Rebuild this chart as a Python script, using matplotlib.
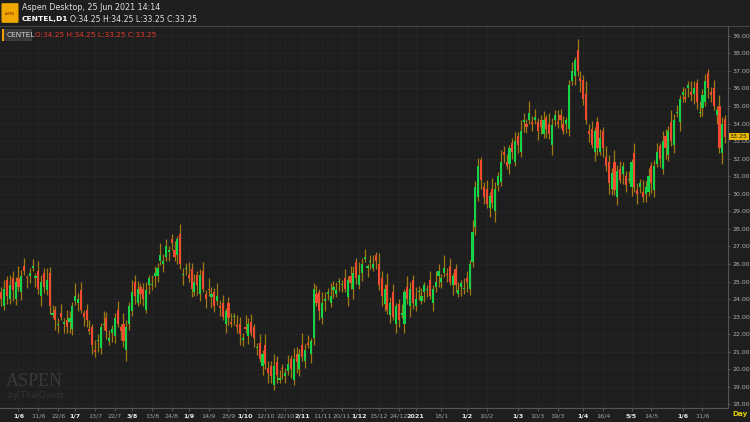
import matplotlib
matplotlib.use("Agg")
import matplotlib.pyplot as plt
from matplotlib.patches import FancyBboxPatch, Rectangle
import numpy as np

closes = [
24.0,24.6,24.2,24.8,24.5,25.0,24.7,25.3,25.6,25.2,
25.5,25.8,25.3,24.6,25.0,24.7,25.1,23.6,23.2,22.8,
22.6,23.0,22.7,22.4,22.9,23.6,24.2,24.0,23.4,23.0,
22.8,22.2,21.4,21.0,21.6,22.4,22.6,22.2,21.8,22.3,
22.9,22.6,22.2,21.6,22.4,23.6,24.4,24.2,24.6,24.3,
24.0,24.5,25.2,24.8,25.5,25.8,26.5,26.2,27.0,26.8,
27.2,26.4,27.4,26.0,25.4,25.8,25.2,24.6,25.0,24.8,
25.4,24.6,24.0,24.5,24.3,23.6,24.2,23.5,23.0,23.3,
22.9,22.6,23.0,22.4,22.0,21.8,22.3,22.6,22.1,21.8,
21.2,20.6,20.9,20.3,19.8,19.6,20.2,19.7,19.5,20.0,
19.8,20.3,20.0,20.6,20.4,20.9,20.7,21.1,21.4,21.6,
24.6,23.8,23.3,23.8,24.0,24.4,24.2,24.7,24.5,25.0,
24.8,24.6,25.1,24.9,25.5,25.2,25.4,26.0,26.4,25.8,
26.2,26.0,26.2,24.8,24.2,24.6,23.4,23.8,23.0,23.6,
22.8,23.2,24.4,24.0,24.6,23.8,24.0,24.4,24.2,24.8,
24.5,24.2,24.6,25.0,25.6,25.2,25.8,25.4,25.0,25.3,
24.8,24.5,24.9,24.6,25.0,26.0,27.8,30.4,31.6,30.8,
29.8,29.4,29.9,29.5,30.3,31.0,31.8,32.2,31.6,32.6,
32.4,33.0,32.8,33.6,34.2,33.8,34.6,34.0,34.4,33.6,
33.8,34.2,33.7,33.4,33.9,34.5,34.0,34.2,33.6,34.2,
36.2,37.0,37.6,37.0,36.4,35.4,34.2,33.4,32.8,33.6,
32.6,33.2,32.6,31.6,30.6,31.2,30.2,31.3,30.8,31.6,
30.5,30.8,31.8,30.4,30.0,30.6,29.8,30.4,31.0,30.6,
31.6,32.4,32.0,33.0,32.6,33.6,33.0,34.2,34.6,35.4,
35.8,35.4,36.2,35.6,36.0,35.2,34.6,35.6,36.4,36.0,
35.6,35.0,34.8,32.6,34.0,33.25]
first_open = 24.4
last_open = 34.25
gap_pattern = [0.3,-0.4,0.5,-0.2,0.4,-0.5,0.2,-0.3,0.6,-0.4,0.1,0.3,-0.6]
wick_pattern = [0.3,0.5,0.2,0.6,0.4,0.25,0.7,0.35,0.45,0.2]
wick_pattern_dn = [0.4,0.2,0.5,0.3,0.6,0.35,0.25,0.45,0.2,0.55]

tick_idx = [6,13,20,26,33,40,46,53,60,66,73,80,86,93,100,106,113,120,126,133,140,146,
            155,164,171,182,189,196,205,212,222,229,240,247]
tick_lbl = ["1/6","11/6","22/6","1/7","13/7","22/7","3/8","13/8","24/8","1/9","14/9","23/9",
            "1/10","12/10","22/10","2/11","11/11","20/11","1/12","15/12","24/12","2021",
            "18/1","1/2","10/2","1/3","10/3","19/3","1/4","16/4","5/5","14/5","1/6","11/6"]
major = {"1/6","1/7","3/8","1/9","1/10","2/11","1/12","2021","1/2","1/3","1/4","5/5"}
yticks = np.arange(18, 40, 1)

closes = np.array(closes)
n = len(closes)
opens = np.concatenate([[first_open], closes[:-1]])
opens = opens + np.array([gap_pattern[i % len(gap_pattern)] for i in range(n)])
opens[0] = first_open
opens[-1] = last_open
wu = np.array([wick_pattern[i % 10] for i in range(n)])
wd = np.array([wick_pattern_dn[i % 10] for i in range(n)])
highs = np.maximum(opens, closes) + wu
lows = np.minimum(opens, closes) - wd

BG = "#1e1e1e"
fig = plt.figure(figsize=(7.5, 4.22), dpi=100, facecolor=BG)
ax = fig.add_axes([0, 14/422, 728/750, (408-27)/422], facecolor=BG)
x = np.arange(n)
ax.vlines(x, lows, highs, color="#a07a12", lw=0.9, zorder=2)
up = closes >= opens
bot = np.minimum(opens, closes)
hgt = np.maximum(np.abs(closes - opens), 0.06)
ax.bar(x[up], hgt[up], bottom=bot[up], width=0.75, color="#14d24a", zorder=3, lw=0)
ax.bar(x[~up], hgt[~up], bottom=bot[~up], width=0.75, color="#f04a30", zorder=3, lw=0)

ax.set_xlim(-0.5, 256)
ax.set_ylim(17.8, 39.5)
ax.yaxis.tick_right()
ax.set_yticks(yticks)
ax.set_yticklabels([f"{v:.2f}" for v in yticks], fontsize=4.5, color="#b0b0b0")
ax.set_xticks(tick_idx)
ax.set_xticklabels(tick_lbl, fontsize=4.6)
for lab in ax.get_xticklabels():
    if lab.get_text() in major:
        lab.set_color("#e8e8e8"); lab.set_fontweight("bold")
    else:
        lab.set_color("#a0a0a0")
ax.tick_params(axis="y", length=1.5, color="#555555", pad=1.5)
ax.tick_params(axis="x", length=2, color="#555555", pad=2)
ax.grid(True, color="#262626", lw=0.6, zorder=0)
for s in ["top", "left"]:
    ax.spines[s].set_visible(False)
for s in ["right", "bottom"]:
    ax.spines[s].set_color("#555555")

ax.text(256.6, 33.25, "33.25", fontsize=4.5, color="#1e1e1e", va="center", ha="left",
        bbox=dict(boxstyle="square,pad=0.15", fc="#e8b800", ec="none"), clip_on=False, zorder=5)

fig.add_artist(FancyBboxPatch((3/750, 1-22/422), 14/750, 18/422, boxstyle="round,pad=0.002",
               transform=fig.transFigure, fc="#f0a800", ec="none"))
fig.text(10/750, 1-14/422, "ASPEN", fontsize=2.2, color="#802000", ha="center", va="center")
fig.text(22/750, 1-8/422, "Aspen Desktop, 25 Jun 2021 14:14", fontsize=5.8, color="#e0e0e0", va="center")
fig.text(22/750, 1-19/422, "CENTEL,D1", fontsize=5.4, color="#ffffff", weight="bold", va="center")
fig.text(70/750, 1-19/422, "O:34.25 H:34.25 L:33.25 C:33.25", fontsize=5.6, color="#e0e0e0", va="center")
fig.add_artist(plt.Line2D([0, 1], [1-26/422, 1-26/422], color="#444444", lw=0.8))
fig.add_artist(Rectangle((2/750, 1-41/422), 30/750, 12/422, transform=fig.transFigure, fc="#3a3a3a", ec="none"))
fig.add_artist(Rectangle((2/750, 1-41/422), 2/750, 12/422, transform=fig.transFigure, fc="#f0a000", ec="none"))
fig.text(7/750, 1-35/422, "CENTEL", fontsize=5.3, color="#d0d0d0", va="center")
fig.text(35/750, 1-35/422, "O:34.25 H:34.25 L:33.25 C:33.25", fontsize=5.3, color="#e03a2a", va="center")

fig.text(6/750, 1-381/422, "ASPEN", fontsize=13, color="#3a3a3a", family="Liberation Serif", va="center")
fig.text(8/750, 1-396/422, "by ThaiQuest", fontsize=6, color="#333333", va="center")
fig.text(740/750, 1-414/422, "Day", fontsize=5.2, color="#e0d000", weight="bold", ha="center", va="center")

fig.savefig("out.png", dpi=100, facecolor=BG)
